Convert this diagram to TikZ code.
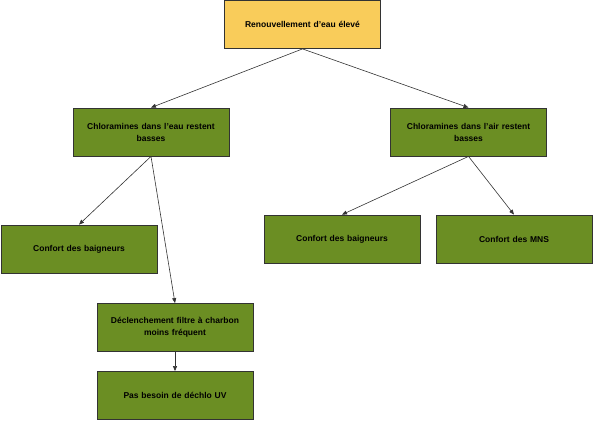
\documentclass[tikz,border=0pt]{standalone}
\usepackage{fontspec}
\setmainfont{Liberation Sans}
\usepackage{tikz}
\usetikzlibrary{arrows.meta}
\usepackage{xcolor}
\definecolor{colRacine}{RGB}{249, 204, 90}
\definecolor{colEffet}{RGB}{107, 142, 35}
\definecolor{colBord}{RGB}{51, 51, 51}

\begin{document}
\begin{tikzpicture}[
  x=1pt, y=-1pt,
  >={Triangle[length=5pt, width=4pt]},
  box/.style={draw=colBord, fill=#1, line width=0.8pt,
              minimum width=156pt, minimum height=48pt,
              text width=150pt, align=center, inner sep=0pt,
              font=\fontsize{8.5}{12}\selectfont\bfseries},
  lien/.style={->, colBord, line width=0.6pt}
]

\useasboundingbox (0,0) rectangle (593,421);

% ---------- Cause ----------
\node[box=colRacine] (renouv) at (302.5,24.5) {Renouvellement d'eau élevé};

% ---------- Niveau 1 ----------
\node[box=colEffet] (chloEau) at (151,132) {Chloramines dans l'eau restent\\basses};
\node[box=colEffet] (chloAir) at (468.5,132) {Chloramines dans l'air restent\\basses};

% ---------- Niveau 2 ----------
\node[box=colEffet] (baignG)  at (79,249)    {Confort des baigneurs};
\node[box=colEffet] (filtre)  at (175,327.5) {Déclenchement filtre à charbon\\moins fréquent};
\node[box=colEffet] (dechlo)  at (175,395.5) {Pas besoin de déchlo UV};
\node[box=colEffet] (baignD)  at (342,239)   {Confort des baigneurs};
\node[box=colEffet] (mns)     at (514,239)   {Confort des MNS};

% ---------- Flèches ----------
\draw[lien] (renouv.south) -- (chloEau.north);
\draw[lien] (renouv.south) -- (chloAir.north);
\draw[lien] (chloEau.south) -- (baignG.north);
\draw[lien] (chloEau.south) -- (filtre.north);
\draw[lien] (filtre.south) -- (dechlo.north);
\draw[lien] (chloAir.south) -- (baignD.north);
\draw[lien] (chloAir.south) -- (mns.north);

\end{tikzpicture}
\end{document}
